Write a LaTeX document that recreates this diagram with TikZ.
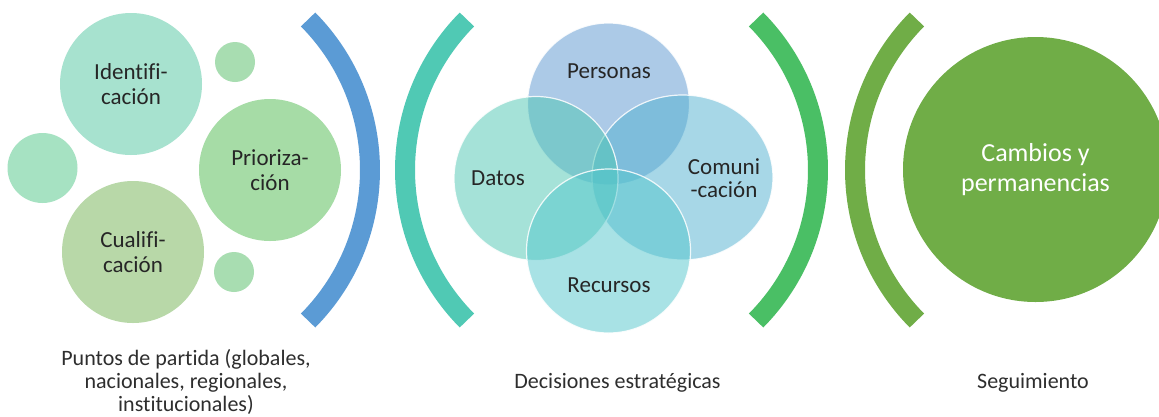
\documentclass[tikz,border=0pt]{standalone}
\usepackage{fontspec}
\setmainfont{Carlito}[RawFeature={-liga;-clig;-dlig;-rlig}]
\usetikzlibrary{shapes.geometric}
\definecolor{txt}{HTML}{262626}
\definecolor{captxt}{HTML}{2E2E2E}
\definecolor{cIdent}{HTML}{A7E2CF}
\definecolor{cSmall}{HTML}{A8DDB1}
\definecolor{cMint}{HTML}{A6E2C2}
\definecolor{cPrior}{HTML}{A6DCA6}
\definecolor{cCual}{HTML}{B8D8A8}
\definecolor{pBlue}{HTML}{5B9BD5}
\definecolor{pTeal}{HTML}{50C9B4}
\definecolor{pGreen}{HTML}{4ABF65}
\definecolor{pOlive}{HTML}{70AD47}
\definecolor{vPers}{HTML}{5B97D1}
\definecolor{vDatos}{HTML}{4DC7B3}
\definecolor{vComu}{HTML}{51B1D1}
\definecolor{vRecu}{HTML}{53C7CD}
\begin{document}
\begin{tikzpicture}[x=1pt,y=-1pt,
  bub/.style={circle, inner sep=0pt, align=center, text=txt,
    font=\fontsize{23}{25}\selectfont},
  paren/.style={line width=20pt, line cap=butt},
  vcirc/.style={circle, inner sep=0pt, fill opacity=0.5, draw=white,
    draw opacity=0.85, line width=1.2pt},
  lbl/.style={font=\fontsize{23}{23.5}\selectfont, text=txt, align=center, inner sep=0pt},
  captext/.style={font=\fontsize{22}{23}\selectfont, text=captxt, align=center, inner sep=0pt}]
\clip (0,0) rectangle (1159,416);
\fill[white] (0,0) rectangle (1159,416);

% left group
\node[bub, minimum size=142pt, fill=cIdent] (ident) at (131,84) {Identif\kern0pt i-\\cación};
\node[bub, minimum size=40pt, fill=cSmall] (stop) at (235,62) {};
\node[bub, minimum size=70pt, fill=cMint] (sleft) at (42.5,168) {};
\node[bub, minimum size=142pt, fill=cPrior] (prior) at (270,170) {Prioriza-\\ción};
\node[bub, minimum size=142pt, fill=cCual] (cual) at (133,252) {Cualif\kern0pt i-\\cación};
\node[bub, minimum size=40pt, fill=cSmall] (sbot) at (234,272) {};

% parentheses
\coordinate (cb) at (156,170);
\coordinate (ct) at (619,170);
\coordinate (cg) at (604,170);
\coordinate (co) at (1069,170);
\draw[paren, pBlue] (cb) ++(-44.7:214pt) arc[start angle=-44.7, end angle=44.7, radius=214pt];
\draw[paren, pTeal] (ct) ++(135.3:214pt) arc[start angle=135.3, end angle=224.7, radius=214pt];
\draw[paren, pGreen] (cg) ++(-44.7:214pt) arc[start angle=-44.7, end angle=44.7, radius=214pt];
\draw[paren, pOlive] (co) ++(135.3:214pt) arc[start angle=135.3, end angle=224.7, radius=214pt];

% venn
\node[vcirc, minimum size=162pt, fill=vPers] (pers) at (608.5,104) {};
\node[vcirc, ellipse, minimum width=181pt, minimum height=165pt, fill=vComu] (comu) at (682.5,177.5) {};
\node[vcirc, minimum size=164pt, fill=vDatos] (datos) at (536,178.5) {};
\node[vcirc, minimum size=164pt, fill=vRecu] (recu) at (608.5,251) {};
\node[lbl] (tpers) at (609,71) {Personas};
\node[lbl] (tdatos) at (498,178) {Datos};
\node[lbl] (tcomu) at (724,178) {Comuni\\-cación};
\node[lbl] (trecu) at (609,285) {Recursos};

% right circle
\node[circle, inner sep=0pt, minimum size=265pt, fill=pOlive, text=white,
  align=center, font=\fontsize{26}{30}\selectfont] (big) at (1035.5,169.5) {Cambios y\\permanencias};

% captions
\node[captext] (cap1) at (186,382) {Puntos de partida (globales,\\nacionales, regionales,\\institucionales)};
\node[captext] (cap2) at (617.5,383) {Decisiones estratégicas};
\node[captext] (cap3) at (1033,383) {Seguimiento};
\end{tikzpicture}
\end{document}
